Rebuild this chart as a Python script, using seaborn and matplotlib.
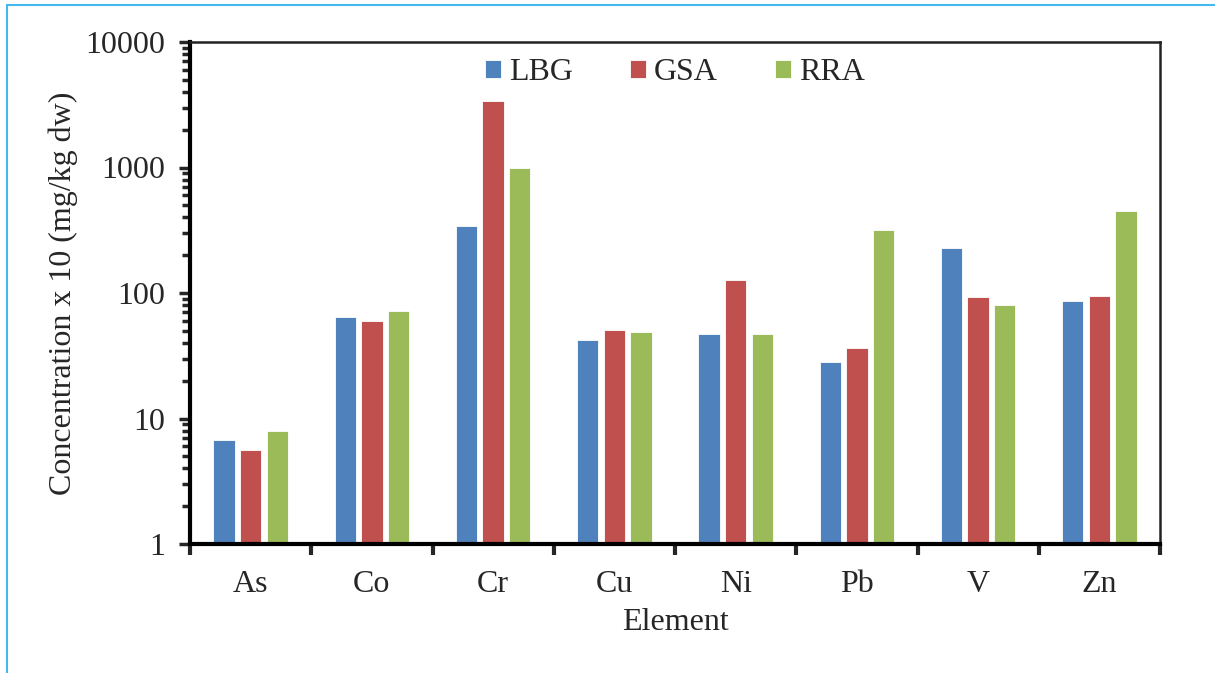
import numpy as np
import pandas as pd
import seaborn as sns
import matplotlib.pyplot as plt
from matplotlib.lines import Line2D
from matplotlib.ticker import FixedLocator, LogLocator, FuncFormatter, NullFormatter

#%% data (concentration x 10, mg/kg dw)
elements = ['As', 'Co', 'Cr', 'Cu', 'Ni', 'Pb', 'V', 'Zn']
sites = ['LBG', 'GSA', 'RRA']
lbg = [6.8, 64, 344, 42.6, 47.4, 28.1, 229, 87]
gsa = [5.6, 60.3, 3380, 50.5, 127.6, 36.7, 93, 95]
rra = [8.0, 72.3, 982, 49, 47.4, 318, 80.7, 454]
colors = ['#4F81BD', '#C0504D', '#9BBB59']

df = pd.DataFrame({'Element': elements * 3,
                   'Site': np.repeat(sites, len(elements)),
                   'value': lbg + gsa + rra})

#%% plot
sns.set_style('white')
plt.rcParams['font.family'] = ['Liberation Serif', 'DejaVu Serif']
fs = 23

fig = plt.figure(figsize=(12.15, 6.73), dpi=100)
ax = fig.add_axes([190/1215, 1-544/673, 970/1215, 502/673])
ax.set_yscale('log')

sns.barplot(data=df, x='Element', y='value', hue='Site', palette=colors,
            saturation=1, width=0.66, gap=0.2, errorbar=None, ax=ax,
            edgecolor='white', linewidth=0.6)

ax.set_ylim(1, 10000)
ax.set_xlim(-0.5, len(elements) - 0.5)

# y ticks: plain integers, ticks outside
ax.yaxis.set_major_locator(LogLocator(base=10))
ax.yaxis.set_minor_locator(LogLocator(base=10, subs=np.arange(2, 10)))
ax.yaxis.set_major_formatter(FuncFormatter(lambda v, p: '%d' % v))
ax.yaxis.set_minor_formatter(NullFormatter())
ax.tick_params(axis='y', which='major', direction='out', length=8, width=2.5, labelsize=fs, pad=10, left=True)
ax.tick_params(axis='y', which='minor', direction='out', length=6, width=2.5, left=True)

# x ticks at category boundaries, labels at centres without ticks
ax.xaxis.set_minor_locator(FixedLocator(np.arange(-0.5, len(elements), 1)))
ax.tick_params(axis='x', which='minor', direction='out', length=8, width=3, bottom=True)
ax.tick_params(axis='x', which='major', length=0, labelsize=fs, pad=19)

for side in ['left', 'bottom']:
    ax.spines[side].set_linewidth(3)
    ax.spines[side].set_color('black')
for side in ['top', 'right']:
    ax.spines[side].set_linewidth(1.8)
    ax.spines[side].set_color('#222222')

ax.set_xlabel('Element', fontsize=fs, labelpad=6)
ax.set_ylabel('Concentration x 10 (mg/kg dw)', fontsize=fs, labelpad=5)

leg = ax.legend(loc='upper center', ncol=3, frameon=False, fontsize=fs,
                handlelength=0.5, handleheight=0.5, handletextpad=0.25,
                columnspacing=1.8, bbox_to_anchor=(0.5, 1.025))

# light blue frame around the picture
fig.add_artist(Line2D([7/1215, 7/1215], [0, 1-5/673], color='#45b8ee', lw=1.5))
fig.add_artist(Line2D([7/1215, 1], [1-5/673, 1-5/673], color='#45b8ee', lw=1.5))

plt.savefig('out.png', dpi=100)
